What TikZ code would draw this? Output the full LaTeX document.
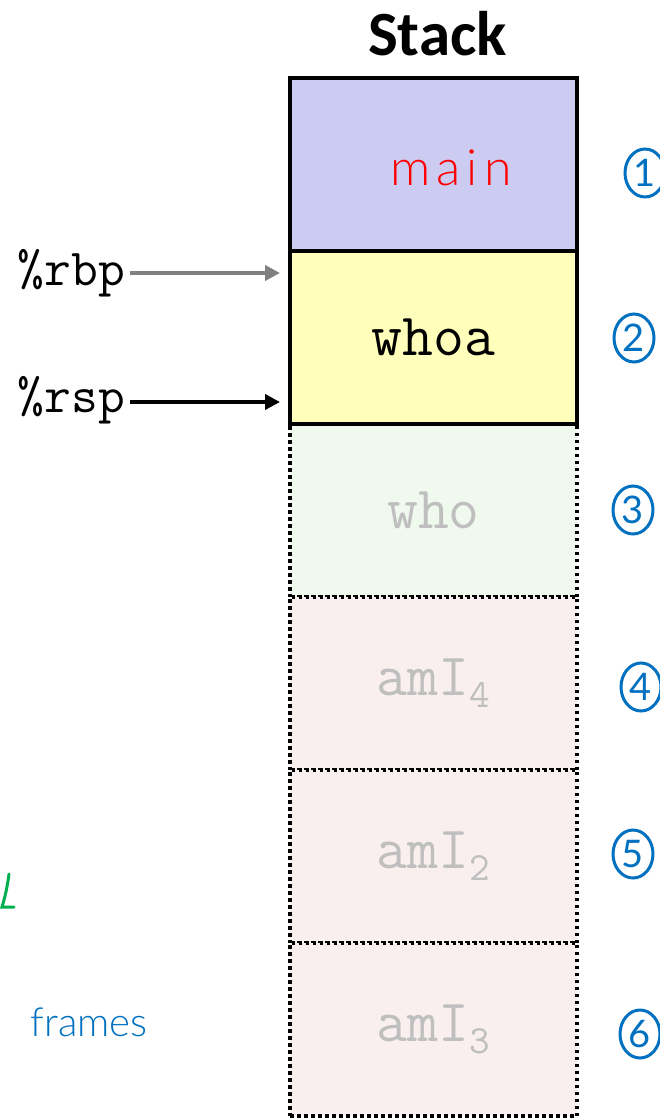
\documentclass[tikz,border=0pt]{standalone}
\usepackage{fontspec}
\setmainfont{Liberation Serif}
\newfontfamily\titlefont{Carlito}
\newfontfamily\numfont{Lato}
\IfFontExistsTF{Lato Light}
  {\newfontfamily\handfont{Lato Light}}
  {\newfontfamily\handfont{Lato}}
\usetikzlibrary{positioning,arrows.meta,shapes.geometric}

\definecolor{mainfill}{HTML}{CCCCF2}
\definecolor{whoafill}{HTML}{FFFFBB}
\definecolor{whofill}{HTML}{F0F9EE}
\definecolor{amifill}{HTML}{F9EFEF}
\definecolor{faded}{HTML}{BFBFBF}
\definecolor{inkblue}{HTML}{0070C0}
\definecolor{inkgreen}{HTML}{00B050}

\newcommand{\amisub}[1]{\raisebox{-12pt}{\fontsize{40}{40}\selectfont #1}}

\begin{document}
\begin{tikzpicture}[x=1pt, y=1pt,
      node distance=0pt,
      cell/.style={minimum width=287pt, minimum height=173pt, inner sep=0pt,
                   outer sep=0pt, font=\ttfamily\fontsize{60}{60}\selectfont},
      live/.style={cell, draw, line width=4.5pt},
      gone/.style={cell, draw, line width=3.5pt, dash pattern=on 3.5pt off 3.5pt,
                   text=faded},
      reg/.style={inner sep=0pt, anchor=base east,
                  font=\ttfamily\fontsize{52}{52}\selectfont},
      num/.style={ellipse, draw=inkblue, line width=3pt, minimum width=40pt,
                  minimum height=48pt, inner sep=0pt, text=inkblue,
                  font=\numfont\fontsize{38}{38}\selectfont},
      hand/.style={inner sep=0pt, font=\handfont\fontsize{40}{40}\selectfont},
      >={Triangle[length=15pt, width=15pt]}]
    \useasboundingbox (0,0) rectangle (660,-1118);

    % stack frames, top to bottom
    \node[live, fill=mainfill]     at (433.5,-164.5) (main) {};
    \node[live, fill=whoafill, below=of main] (whoa) {whoa};
    \node[gone, fill=whofill,  below=of whoa] (who)  {who};
    \node[gone, fill=amifill,  below=of who]  (amia) {amI\amisub{4}};
    \node[gone, fill=amifill,  below=of amia] (amib) {amI\amisub{2}};
    \node[gone, fill=amifill,  below=of amib] (amic) {amI\amisub{3}};
    \draw[line width=4.5pt] (whoa.south west) -- (whoa.south east);

    \node[above=22pt of main, xshift=4pt, inner sep=0pt,
          font=\titlefont\bfseries\fontsize{63}{63}\selectfont] (title) {Stack};
    \node[hand, text=red, font=\handfont\fontsize{50}{50}\selectfont\addfontfeature{LetterSpace=12}]
          at (451,-168) (mainlbl) {main};

    % registers
    \node[reg] at (125,-285) (rbp) {\%rbp};
    \node[reg] at (125,-412) (rsp) {\%rsp};
    \coordinate (rbptail) at ([yshift=12pt]rbp.base east);
    \coordinate (rsptail) at ([yshift=10pt]rsp.base east);
    \draw[->, line width=4pt, draw=gray, fill=gray, shorten <=5pt, shorten >=10pt]
          (rbptail) -- (rbptail -| whoa.west);
    \draw[->, line width=4pt, shorten <=5pt, shorten >=10pt]
          (rsptail) -- (rsptail -| whoa.west);

    % ink notes
    \node[num] at (645,-173)  (n1) {1};
    \node[num] at (634,-338)  (n2) {2};
    \node[num] at (633,-510)  (n3) {3};
    \node[num] at (641,-687)  (n4) {4};
    \node[num] at (633,-854)  (n5) {5};
    \node[num] at (640,-1034) (n6) {6};
    \node[hand, text=inkblue] at (89,-1022) (frames) {frames};
    \draw[inkgreen, line width=3pt, line cap=round]
          (9,-874) .. controls (7,-890) and (4,-900) .. (2,-907) -- (14,-907);
  \end{tikzpicture}
\end{document}
